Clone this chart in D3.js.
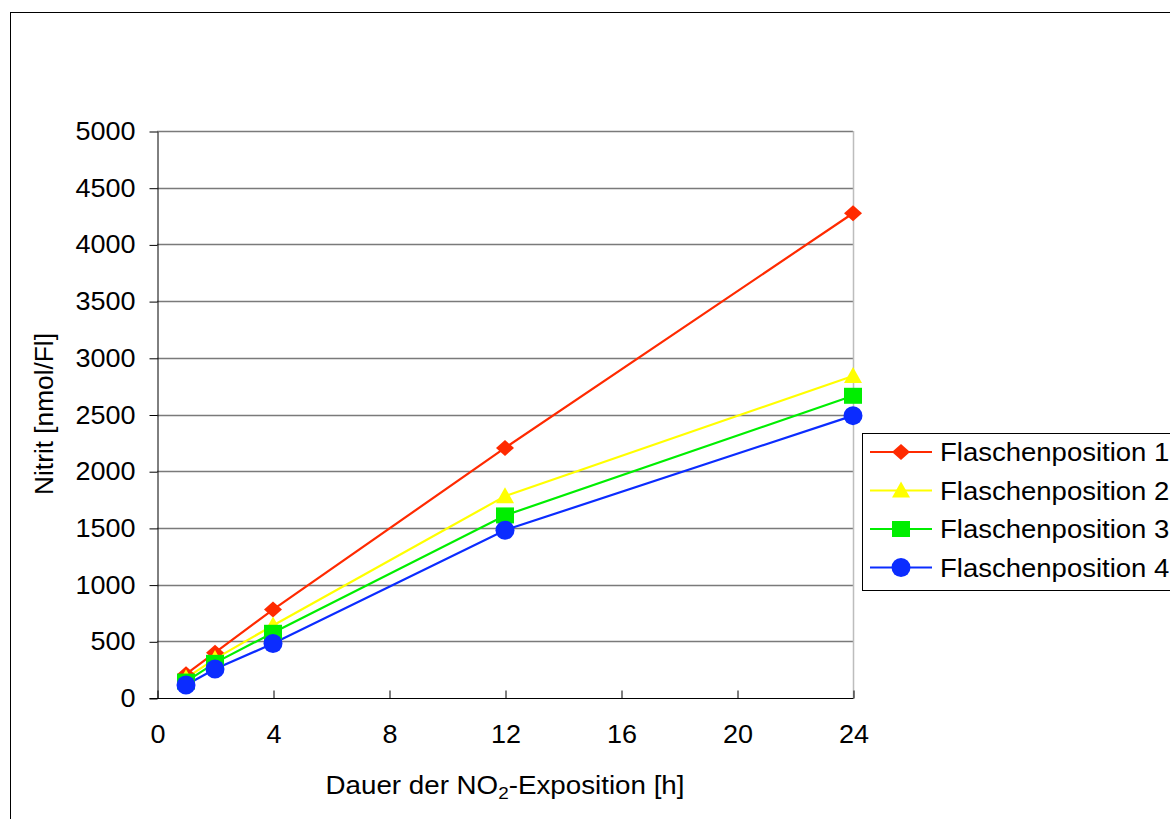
<!DOCTYPE html>
<html lang="de">
<head>
    <meta charset="UTF-8">
    <title>Nitrit vs. NO2-Exposition</title>
    <script src="https://d3js.org/d3.v7.min.js"></script>
    <style>
        body { margin: 0; background: #fff; }
        svg text { font-family: "Liberation Sans", Arial, sans-serif; fill: #000; }
    </style>
</head>
<body>
<svg width="1170" height="819"></svg>

<script>
    // data
    const hours = [1, 2, 4, 12, 24];
    const pos1 = [210, 400, 780, 2205, 4275];
    const pos2 = [175, 345, 640, 1780, 2840];
    const pos3 = [145, 310, 575, 1610, 2665];
    const pos4 = [115, 255, 480, 1480, 2490];
    const seriesNames = ["Flaschenposition 1", "Flaschenposition 2", "Flaschenposition 3", "Flaschenposition 4"];
    const seriesColors = ["#ff2a00", "#ffff00", "#00ee00", "#0b2cff"];
    const seriesSymbols = ["diamond", "triangle", "square", "circle"];
    const xTicks = [0, 4, 8, 12, 16, 20, 24];
    const yTicks = d3.range(0, 5001, 500);

    const series = [pos1, pos2, pos3, pos4].map((vals, i) => ({
        name: seriesNames[i], color: seriesColors[i], symbol: seriesSymbols[i],
        points: hours.map((h, j) => [h, vals[j]])
    }));

    const svg = d3.select("svg");
    const x = d3.scaleLinear().domain([0, 24]).range([157, 853]);
    const y = d3.scaleLinear().domain([0, 5000]).range([698, 131]);

    // the original's text is a bit wider than the font, stretch it
    function stretch(sel, k) {
        sel.each(function () {
            const len = this.getComputedTextLength();
            d3.select(this).attr("textLength", len * k).attr("lengthAdjust", "spacingAndGlyphs");
        });
    }

    // outer chart frame
    svg.append("rect").attr("x", 10.5).attr("y", 12.5).attr("width", 1200).attr("height", 900)
        .attr("fill", "none").attr("stroke", "#000").attr("stroke-width", 1);

    // gridlines
    svg.append("g").selectAll("line").data(yTicks.filter(d => d > 0)).join("line")
        .attr("x1", x(0)).attr("x2", x(24))
        .attr("y1", d => Math.round(y(d)) + 0.5).attr("y2", d => Math.round(y(d)) + 0.5)
        .attr("stroke", "#7a7a7a").attr("stroke-width", 1.5);

    // plot area right border
    svg.append("line").attr("x1", x(24) + 0.5).attr("x2", x(24) + 0.5).attr("y1", y(5000)).attr("y2", y(0))
        .attr("stroke", "#bdbdbd").attr("stroke-width", 1.5);

    // y axis
    const yAxis = svg.append("g").attr("transform", `translate(${x(0) + 0.5},0.5)`)
        .call(d3.axisLeft(y).tickValues(yTicks).tickFormat(d3.format("d"))
            .tickSize(8).tickPadding(14).tickSizeOuter(0));
    yAxis.select(".domain").attr("stroke", "#000");
    yAxis.selectAll("text").attr("font-size", 25).attr("font-family", null).call(stretch, 1.08);

    // x axis (ticks pointing up)
    const xAxis = svg.append("g").attr("transform", `translate(0.5,${y(0) + 0.5})`)
        .call(d3.axisBottom(x).tickValues(xTicks).tickSize(-8).tickSizeOuter(0).tickPadding(0));
    xAxis.selectAll("text").attr("font-size", 25).attr("font-family", null).attr("dy", null).attr("y", 44)
        .call(stretch, 1.08);
    xAxis.select(".domain").attr("d", `M${x(0) - 8},0H${x(24)}`);

    // lines and markers
    const line = d3.line().x(d => x(d[0])).y(d => y(d[1]));

    function marker(g, s) {
        if (s.symbol === "diamond") {
            g.append("path").attr("d", "M0,-8L9,0L0,8L-9,0Z").attr("fill", s.color);
        } else if (s.symbol === "triangle") {
            g.append("path").attr("d", "M0,-9L9,7L-9,7Z").attr("fill", s.color);
        } else if (s.symbol === "square") {
            g.append("rect").attr("x", -9).attr("y", -8).attr("width", 18).attr("height", 16).attr("fill", s.color);
        } else {
            g.append("circle").attr("r", 9.5).attr("fill", s.color);
        }
    }

    series.forEach(s => {
        svg.append("path").datum(s.points).attr("d", line)
            .attr("fill", "none").attr("stroke", s.color).attr("stroke-width", 2.2);
    });
    series.forEach(s => {
        s.points.forEach(p => {
            const g = svg.append("g").attr("transform", `translate(${x(p[0])},${y(p[1])})`);
            marker(g, s);
        });
    });

    // axis titles
    const xTitle = svg.append("g").attr("transform", "translate(505,794) scale(1.11,1)");
    xTitle.append("text").attr("text-anchor", "middle").attr("font-size", 25)
        .call(t => {
            t.append("tspan").text("Dauer der NO");
            t.append("tspan").text("2").attr("font-size", 17).attr("dy", 5);
            t.append("tspan").text("-Exposition [h]").attr("dy", -5);
        });
    svg.append("text").attr("transform", "translate(53,414) rotate(-90)")
        .attr("text-anchor", "middle").attr("font-size", 25).text("Nitrit [nmol/Fl]")
        .call(stretch, 1.05);

    // legend
    const lg = svg.append("g");
    lg.append("rect").attr("x", 862.5).attr("y", 433.5).attr("width", 400).attr("height", 157)
        .attr("fill", "#fff").attr("stroke", "#000").attr("stroke-width", 1);
    series.forEach((s, i) => {
        const ly = 452 + i * 38.5;
        lg.append("line").attr("x1", 870).attr("x2", 932).attr("y1", ly).attr("y2", ly)
            .attr("stroke", s.color).attr("stroke-width", 2.2);
        marker(lg.append("g").attr("transform", `translate(901,${ly})`), s);
        lg.append("text").attr("x", 940).attr("y", ly + 9).attr("font-size", 25).text(s.name)
            .call(stretch, 1.1);
    });
</script>
</body>
</html>
